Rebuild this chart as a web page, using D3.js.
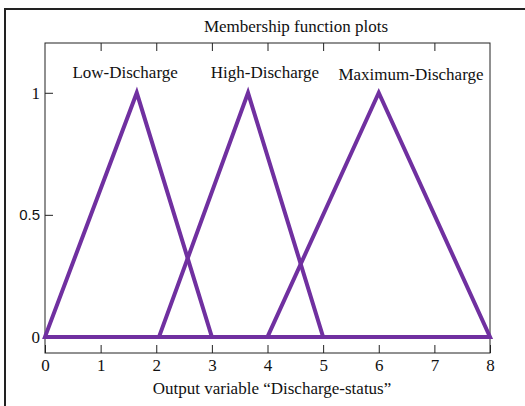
<!DOCTYPE html>
<html>
<head>
<meta charset="utf-8">
<script src="https://cdn.jsdelivr.net/npm/d3@7"></script>
<style>
  body { margin: 0; background: #fff; }
  text { font-family: "Liberation Serif", "Times New Roman", serif; fill: #111; }
</style>
</head>
<body>
<script>
const width = 525;
const height = 406;

// membership functions: [left foot, peak, right foot]
const setNames = ['Low-Discharge', 'High-Discharge', 'Maximum-Discharge'];
const setPoints = [
    [0, 1.65, 3],
    [2.05, 3.65, 5],
    [4, 6, 8]
];
const xTicks = [0, 1, 2, 3, 4, 5, 6, 7, 8];
const yTicks = [0, 0.5, 1];
const yTickLabels = ['0', '0.5', '1'];

const margin = {top: 43, left: 45, right: 35, bottom: 53};
const plotW = width - margin.left - margin.right;
const plotH = height - margin.top - margin.bottom;

const purple = '#7030a0';

const svg = d3.select('body')
    .append('svg')
    .attr('width', width)
    .attr('height', height);

// outer frame (only top and left visible)
svg.append('path')
    .attr('d', `M5,${height} V9 H${width}`)
    .attr('fill', 'none')
    .attr('stroke', '#222')
    .attr('stroke-width', 2);

const x = d3.scaleLinear().domain([0, 8]).range([0, plotW]);
const y = d3.scaleLinear().domain([-0.066, 1.204]).range([plotH, 0]);

const g = svg.append('g')
    .attr('transform', `translate(${margin.left},${margin.top})`);

g.append('rect')
    .attr('width', plotW)
    .attr('height', plotH)
    .attr('fill', 'none')
    .attr('stroke', '#222')
    .attr('stroke-width', 1);

const xAxis = g.append('g')
    .attr('transform', `translate(0,${plotH})`)
    .call(d3.axisBottom(x).tickValues(xTicks).tickSizeInner(-8).tickSizeOuter(0).tickPadding(6));

const topAxis = g.append('g')
    .call(d3.axisTop(x).tickValues(xTicks.slice(1, -1)).tickSizeInner(-8).tickSizeOuter(0).tickFormat(''));

const yAxis = g.append('g')
    .call(d3.axisLeft(y).tickValues(yTicks).tickSizeInner(-8).tickSizeOuter(0).tickPadding(5)
        .tickFormat((d, i) => yTickLabels[i]));

[xAxis, topAxis, yAxis].forEach(a => {
    a.select('.domain').remove();
    a.selectAll('line').attr('stroke', '#222');
    a.selectAll('text')
        .style('font-family', '"Liberation Serif", serif')
        .style('font-size', '17px')
        .attr('fill', '#111');
});
yAxis.selectAll('.tick text')
    .filter(d => d === 0.5)
    .style('font-family', '"Liberation Sans", sans-serif')
    .style('font-size', '15px');

const line = d3.line()
    .x(d => x(d[0]))
    .y(d => y(d[1]));

g.selectAll('.mf')
    .data(setPoints)
    .enter().append('path')
    .attr('class', 'mf')
    .attr('d', d => line([[d[0], 0], [d[1], 1], [d[2], 0]]) + 'Z')
    .attr('fill', 'none')
    .attr('stroke', purple)
    .attr('stroke-width', 4)
    .attr('stroke-linejoin', 'miter');

// set name labels, placed above the peaks
const labelX = [1.44, 3.955, 6.58];
const labelY = [78, 78, 80];
svg.selectAll('.setlabel')
    .data(setNames)
    .enter().append('text')
    .attr('class', 'setlabel')
    .attr('x', (d, i) => margin.left + x(labelX[i]))
    .attr('y', (d, i) => labelY[i])
    .attr('text-anchor', 'middle')
    .style('font-size', '17px')
    .text(d => d);

svg.append('text')
    .attr('x', 296)
    .attr('y', 32)
    .attr('text-anchor', 'middle')
    .style('font-size', '17px')
    .text('Membership function plots');

svg.append('text')
    .attr('x', 272)
    .attr('y', 394)
    .attr('text-anchor', 'middle')
    .style('font-size', '17px')
    .text('Output variable \u201cDischarge-status\u201d');
</script>
</body>
</html>
